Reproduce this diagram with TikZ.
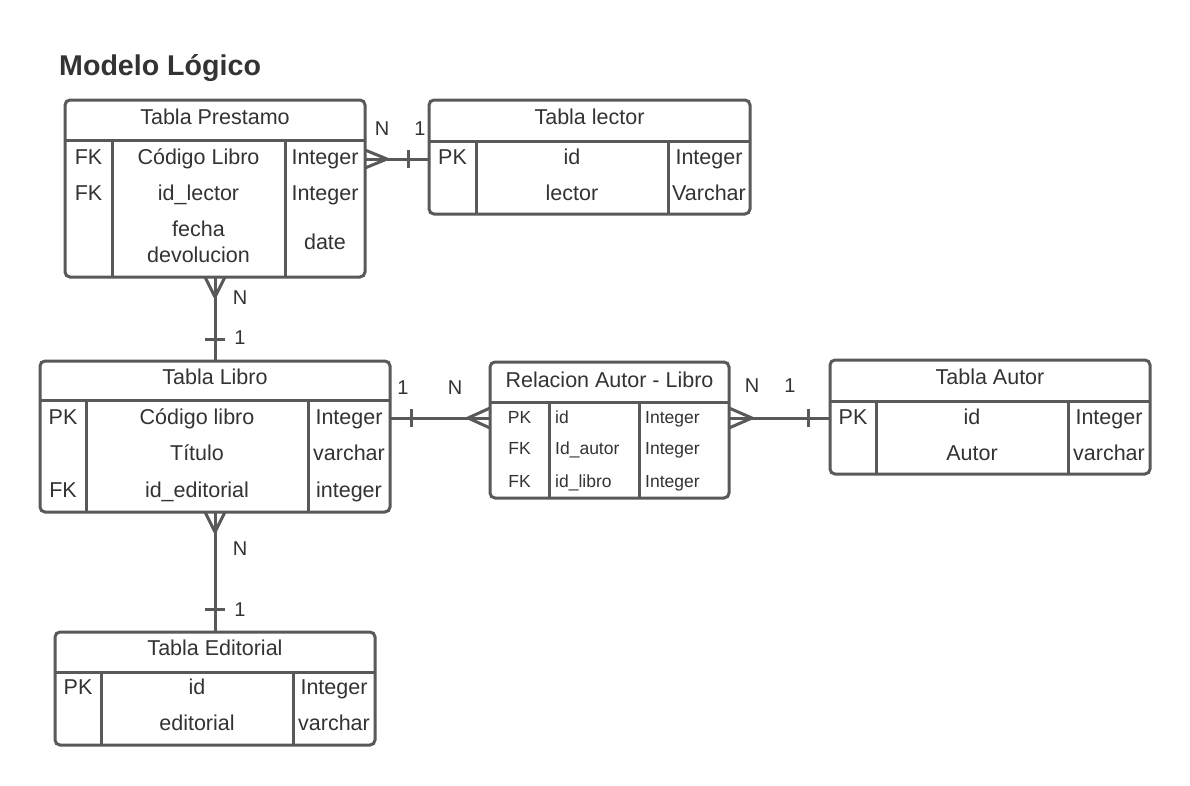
\documentclass[tikz,border=0pt]{standalone}
\usepackage{fontspec}
\setmainfont{Liberation Sans}
\usetikzlibrary{fit}
\definecolor{ln}{HTML}{595959}
\definecolor{tx}{HTML}{333333}
\tikzset{
 ertbl/.style={draw=ln, line width=3pt, rounded corners=5pt, inner sep=0pt, outer sep=0pt, fill=white},
 erline/.style={draw=ln, line width=3pt, line join=round},
 txt/.style={text=tx, inner sep=0pt, anchor=base, font=\fontsize{21.5}{24}\selectfont},
 stxt/.style={text=tx, inner sep=0pt, anchor=base, font=\fontsize{17.5}{20}\selectfont},
 stxtl/.style={stxt, anchor=base west},
 lbl/.style={text=tx, inner sep=0pt, anchor=base, font=\fontsize{20}{24}\selectfont},
 ttl/.style={text=tx, inner sep=0pt, anchor=base west, font=\fontsize{28.6}{32}\selectfont\bfseries},
}
\newcommand\ertab[8]{%
  \node[ertbl, fit={(#2,#3)(#4,#5)}] (#1) {};
  \draw[erline] (#1.west |- 0,#6) -- (#1.east |- 0,#6);
  \draw[erline] (#7,#6) -- (#7,#5);
  \draw[erline] (#8,#6) -- (#8,#5);
}
\begin{document}
\begin{tikzpicture}[x=1pt,y=-1pt]
\fill[white] (0,0) rectangle (1190,785);
\useasboundingbox (0,0) rectangle (1190,785);

\node[ttl] (title) at (59,75) {Modelo Lógico};

% Tabla Prestamo
\ertab{prest}{65}{100}{365}{277}{140}{112}{285}
\node[txt] (prestH) at (215,124.5) {Tabla Prestamo};
\node[txt] (p1k) at (88.5,164.5) {FK};
\node[txt] (p1n) at (198.5,164.5) {Código Libro};
\node[txt] (p1t) at (325,164.5) {Integer};
\node[txt] (p2k) at (88.5,200.5) {FK};
\node[txt] (p2n) at (198.5,200.5) {id\_lector};
\node[txt] (p2t) at (325,200.5) {Integer};
\node[txt] (p3a) at (198.5,236.5) {fecha};
\node[txt] (p3b) at (198.5,262.5) {devolucion};
\node[txt] (p3t) at (325,249.5) {date};

% Tabla lector
\ertab{lector}{429}{100}{750}{214}{141}{476}{668}
\node[txt] (lectorH) at (589.5,124.5) {Tabla lector};
\node[txt] (l1k) at (452.5,164.5) {PK};
\node[txt] (l1n) at (572,164.5) {id};
\node[txt] (l1t) at (709,164.5) {Integer};
\node[txt] (l2n) at (572,200.5) {lector};
\node[txt] (l2t) at (709,200.5) {Varchar};

% Tabla Libro
\ertab{libro}{40}{361}{390}{512}{400}{86}{308}
\node[txt] (libroH) at (215,384.5) {Tabla Libro};
\node[txt] (b1k) at (63,424.5) {PK};
\node[txt] (b1n) at (197,424.5) {Código libro};
\node[txt] (b1t) at (349,424.5) {Integer};
\node[txt] (b2n) at (197,460.5) {Título};
\node[txt] (b2t) at (349,460.5) {varchar};
\node[txt] (b3k) at (63,497.5) {FK};
\node[txt] (b3n) at (197,497.5) {id\_editorial};
\node[txt] (b3t) at (349,497.5) {integer};

% Relacion Autor - Libro
\ertab{rel}{490}{362}{729}{498}{402}{549}{639}
\node[txt] (relH) at (609.5,387.5) {Relacion Autor - Libro};
\node[stxt] (r1k) at (519.5,423) {PK};
\node[stxtl] (r1n) at (555,423) {id};
\node[stxtl] (r1t) at (645,423) {Integer};
\node[stxt] (r2k) at (519.5,454.5) {FK};
\node[stxtl] (r2n) at (555,454.5) {Id\_autor};
\node[stxtl] (r2t) at (645,454.5) {Integer};
\node[stxt] (r3k) at (519.5,487) {FK};
\node[stxtl] (r3n) at (555,487) {id\_libro};
\node[stxtl] (r3t) at (645,487) {Integer};

% Tabla Autor
\ertab{autor}{830}{360}{1150}{474}{401}{876}{1068}
\node[txt] (autorH) at (990,384.5) {Tabla Autor};
\node[txt] (a1k) at (853,424.5) {PK};
\node[txt] (a1n) at (972,424.5) {id};
\node[txt] (a1t) at (1109,424.5) {Integer};
\node[txt] (a2n) at (972,460.5) {Autor};
\node[txt] (a2t) at (1109,460.5) {varchar};

% Tabla Editorial
\ertab{edit}{55}{632}{375}{745}{672}{101}{293}
\node[txt] (editH) at (215,655.5) {Tabla Editorial};
\node[txt] (e1k) at (78,694.5) {PK};
\node[txt] (e1n) at (197,694.5) {id};
\node[txt] (e1t) at (334,694.5) {Integer};
\node[txt] (e2n) at (197,730.5) {editorial};
\node[txt] (e2t) at (334,730.5) {varchar};

% Prestamo -- lector
\coordinate (pl) at (387,159);
\draw[erline] (prest.east |- 0,159) -- (lector.west |- 0,159);
\draw[erline] (prest.east |- 0,150) -- (pl) -- (prest.east |- 0,168);
\draw[erline] (408,150) -- (408,168);
\node[lbl] (plN) at (382,135) {N};
\node[lbl] (pl1) at (420,135) {1};

% Prestamo -- Libro
\coordinate (pb) at (215,297);
\draw[erline] (215,0 |- prest.south) -- (215,0 |- libro.north);
\draw[erline] (205,0 |- prest.south) -- (pb) -- (225,0 |- prest.south);
\draw[erline] (205,339) -- (225,339);
\node[lbl] (pbN) at (240,304) {N};
\node[lbl] (pb1) at (240,344) {1};

% Libro -- Relacion
\coordinate (br) at (468,418);
\draw[erline] (libro.east |- 0,418) -- (rel.west |- 0,418);
\draw[erline] (rel.west |- 0,408) -- (br) -- (rel.west |- 0,428);
\draw[erline] (411,409) -- (411,427);
\node[lbl] (br1) at (403,394) {1};
\node[lbl] (brN) at (455,394) {N};

% Relacion -- Autor
\coordinate (ra) at (752,418);
\draw[erline] (rel.east |- 0,418) -- (autor.west |- 0,418);
\draw[erline] (rel.east |- 0,408) -- (ra) -- (rel.east |- 0,428);
\draw[erline] (808,409) -- (808,427);
\node[lbl] (raN) at (752,392) {N};
\node[lbl] (ra1) at (790,392) {1};

% Libro -- Editorial
\coordinate (be) at (215,532);
\draw[erline] (215,0 |- libro.south) -- (215,0 |- edit.north);
\draw[erline] (205,0 |- libro.south) -- (be) -- (225,0 |- libro.south);
\draw[erline] (205,609) -- (225,609);
\node[lbl] (beN) at (240,555) {N};
\node[lbl] (be1) at (240,616) {1};
\end{tikzpicture}
\end{document}
